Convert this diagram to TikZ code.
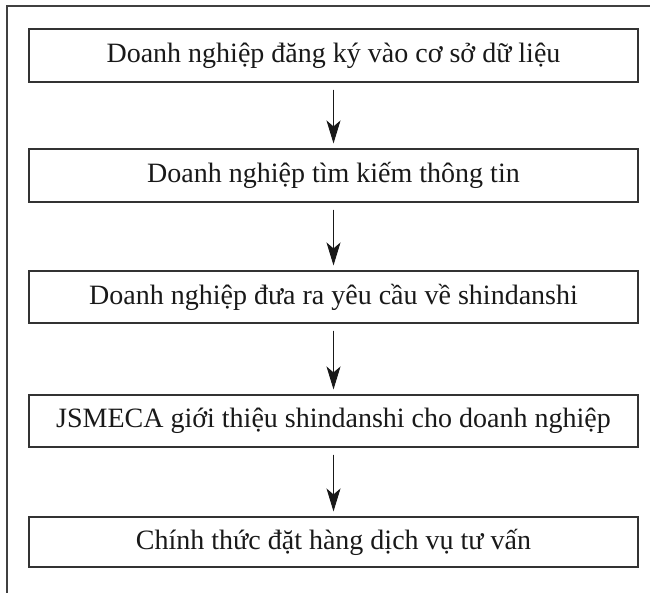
\documentclass[tikz,border=0pt]{standalone}
\usepackage{fontspec}
\setmainfont{Liberation Serif}
\usetikzlibrary{arrows.meta}
\begin{document}
\begin{tikzpicture}[x=1pt,y=-1pt,
  stepbox/.style={draw=black!80, line width=1.1pt, minimum width=609pt,
    inner sep=0pt, font=\fontsize{28}{32}\selectfont, text=black!90},
  flow/.style={-{Stealth[length=23pt,width=14pt,inset=6pt]}, line width=1pt,
    draw=black!90, fill=black!90, shorten <=7pt, shorten >=5pt}]
\useasboundingbox (0,0) rectangle (650,592);
\clip (0,0) rectangle (650,592);
% outer frame (runs past the right and bottom edges)
\draw[line width=1.5pt, black!75] (7,6) rectangle (680,620);
% process steps
\node[stepbox, minimum height=53pt] (s1) at (333.5,55.5) {Doanh nghiệp đăng ký vào cơ sở dữ liệu};
\node[stepbox, minimum height=53pt] (s2) at (333.5,175.5) {Doanh nghiệp tìm kiếm thông tin};
\node[stepbox, minimum height=52pt] (s3) at (333.5,297) {Doanh nghiệp đưa ra yêu cầu về shindanshi};
\node[stepbox, minimum height=52pt] (s4) at (333.5,421) {JSMECA giới thiệu shindanshi cho doanh nghiệp};
\node[stepbox, minimum height=50pt] (s5) at (333.5,542) {Chính thức đặt hàng dịch vụ tư vấn};
% connectors
\draw[flow] (s1) -- (s2);
\draw[flow] (s2) -- (s3);
\draw[flow] (s3) -- (s4);
\draw[flow] (s4) -- (s5);
\end{tikzpicture}
\end{document}
